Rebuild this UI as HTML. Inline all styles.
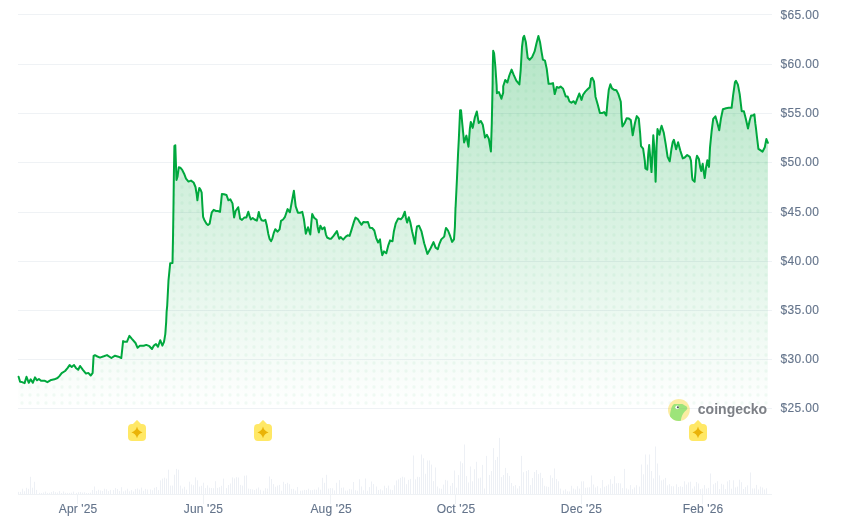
<!DOCTYPE html>
<html lang="en">
<head>
<meta charset="utf-8">
<title>Price chart</title>
<style>
html,body{margin:0;padding:0;background:#fff;}
body{width:868px;height:531px;overflow:hidden;font-family:"Liberation Sans",sans-serif;}
svg{display:block;}
.lab text{font-family:"Liberation Sans",sans-serif;font-size:12px;fill:#64748b;stroke:#64748b;stroke-width:0.12px;}
.wm{font-family:"Liberation Sans",sans-serif;font-size:14.5px;font-weight:700;fill:#7d8086;}
</style>
</head>
<body>
<svg width="868" height="531" viewBox="0 0 868 531">
<defs>
<linearGradient id="ag" gradientUnits="userSpaceOnUse" x1="0" y1="36" x2="0" y2="408">
<stop offset="0" stop-color="#00a83e" stop-opacity="0.30"/>
<stop offset="1" stop-color="#00a83e" stop-opacity="0"/>
</linearGradient>
<pattern id="dots" patternUnits="userSpaceOnUse" x="0" y="0" width="8" height="8">
<circle cx="6" cy="3" r="1.7" fill="#00a83e" fill-opacity="0.05"/>
</pattern>
</defs>
<rect width="868" height="531" fill="#ffffff"/>
<g fill="#eff2f5"><rect x="18" y="14" width="754" height="1"/><rect x="18" y="64" width="754" height="1"/><rect x="18" y="113" width="754" height="1"/><rect x="18" y="162" width="754" height="1"/><rect x="18" y="212" width="754" height="1"/><rect x="18" y="261" width="754" height="1"/><rect x="18" y="310" width="754" height="1"/><rect x="18" y="359" width="754" height="1"/><rect x="18" y="408" width="754" height="1"/></g>
<g fill="#edf0f5"><rect x="18" y="491.9" width="1" height="2.6"/><rect x="20" y="491.9" width="1" height="2.6"/><rect x="22" y="488.7" width="1" height="5.8"/><rect x="24" y="491.3" width="1" height="3.2"/><rect x="26" y="487.8" width="1" height="6.7"/><rect x="28" y="488.8" width="1" height="5.7"/><rect x="30" y="476.8" width="1" height="17.7"/><rect x="32" y="487.7" width="1" height="6.8"/><rect x="34" y="481.8" width="1" height="12.7"/><rect x="36" y="489.9" width="1" height="4.6"/><rect x="39" y="492.8" width="1" height="1.7"/><rect x="41" y="493.0" width="1" height="1.5"/><rect x="43" y="492.5" width="1" height="2.0"/><rect x="45" y="491.6" width="1" height="2.9"/><rect x="47" y="492.9" width="1" height="1.6"/><rect x="49" y="492.8" width="1" height="1.7"/><rect x="51" y="492.1" width="1" height="2.4"/><rect x="53" y="491.2" width="1" height="3.3"/><rect x="55" y="492.2" width="1" height="2.3"/><rect x="57" y="492.6" width="1" height="1.9"/><rect x="59" y="491.1" width="1" height="3.4"/><rect x="61" y="493.0" width="1" height="1.5"/><rect x="63" y="491.5" width="1" height="3.0"/><rect x="65" y="492.8" width="1" height="1.7"/><rect x="67" y="492.9" width="1" height="1.6"/><rect x="69" y="492.9" width="1" height="1.6"/><rect x="71" y="492.7" width="1" height="1.8"/><rect x="73" y="491.6" width="1" height="2.9"/><rect x="76" y="492.9" width="1" height="1.6"/><rect x="78" y="492.2" width="1" height="2.3"/><rect x="80" y="492.1" width="1" height="2.4"/><rect x="82" y="492.6" width="1" height="1.9"/><rect x="84" y="492.3" width="1" height="2.2"/><rect x="86" y="493.0" width="1" height="1.5"/><rect x="88" y="493.0" width="1" height="1.5"/><rect x="90" y="492.7" width="1" height="1.8"/><rect x="92" y="490.0" width="1" height="4.5"/><rect x="94" y="486.5" width="1" height="8.0"/><rect x="96" y="490.9" width="1" height="3.6"/><rect x="98" y="489.8" width="1" height="4.7"/><rect x="100" y="490.5" width="1" height="4.0"/><rect x="102" y="491.0" width="1" height="3.5"/><rect x="104" y="488.7" width="1" height="5.8"/><rect x="106" y="489.3" width="1" height="5.2"/><rect x="108" y="491.1" width="1" height="3.4"/><rect x="110" y="489.9" width="1" height="4.6"/><rect x="113" y="490.1" width="1" height="4.4"/><rect x="115" y="488.1" width="1" height="6.4"/><rect x="117" y="489.0" width="1" height="5.5"/><rect x="119" y="491.0" width="1" height="3.5"/><rect x="121" y="487.2" width="1" height="7.3"/><rect x="123" y="491.4" width="1" height="3.1"/><rect x="125" y="490.5" width="1" height="4.0"/><rect x="127" y="488.7" width="1" height="5.8"/><rect x="129" y="491.3" width="1" height="3.2"/><rect x="131" y="490.1" width="1" height="4.4"/><rect x="133" y="491.5" width="1" height="3.0"/><rect x="135" y="489.1" width="1" height="5.4"/><rect x="137" y="488.5" width="1" height="6.0"/><rect x="139" y="489.6" width="1" height="4.9"/><rect x="141" y="487.6" width="1" height="6.9"/><rect x="143" y="490.8" width="1" height="3.7"/><rect x="145" y="488.9" width="1" height="5.6"/><rect x="147" y="489.5" width="1" height="5.0"/><rect x="150" y="489.5" width="1" height="5.0"/><rect x="152" y="490.2" width="1" height="4.3"/><rect x="154" y="487.8" width="1" height="6.7"/><rect x="156" y="487.0" width="1" height="7.5"/><rect x="158" y="490.1" width="1" height="4.4"/><rect x="160" y="480.4" width="1" height="14.1"/><rect x="162" y="478.6" width="1" height="15.9"/><rect x="164" y="477.7" width="1" height="16.8"/><rect x="166" y="478.6" width="1" height="15.9"/><rect x="168" y="469.7" width="1" height="24.8"/><rect x="170" y="485.6" width="1" height="8.9"/><rect x="172" y="485.6" width="1" height="8.9"/><rect x="174" y="474.7" width="1" height="19.8"/><rect x="176" y="468.9" width="1" height="25.6"/><rect x="178" y="469.7" width="1" height="24.8"/><rect x="180" y="485.6" width="1" height="8.9"/><rect x="182" y="488.6" width="1" height="5.9"/><rect x="184" y="486.8" width="1" height="7.7"/><rect x="186" y="489.7" width="1" height="4.8"/><rect x="189" y="481.7" width="1" height="12.8"/><rect x="191" y="484.5" width="1" height="10.0"/><rect x="193" y="485.2" width="1" height="9.3"/><rect x="195" y="477.4" width="1" height="17.1"/><rect x="197" y="480.3" width="1" height="14.2"/><rect x="199" y="486.6" width="1" height="7.9"/><rect x="201" y="485.8" width="1" height="8.7"/><rect x="203" y="482.7" width="1" height="11.8"/><rect x="205" y="488.1" width="1" height="6.4"/><rect x="207" y="485.4" width="1" height="9.1"/><rect x="209" y="487.7" width="1" height="6.8"/><rect x="211" y="488.0" width="1" height="6.5"/><rect x="213" y="488.2" width="1" height="6.3"/><rect x="215" y="481.2" width="1" height="13.3"/><rect x="217" y="487.9" width="1" height="6.6"/><rect x="219" y="487.2" width="1" height="7.3"/><rect x="221" y="485.8" width="1" height="8.7"/><rect x="223" y="478.6" width="1" height="15.9"/><rect x="226" y="488.1" width="1" height="6.4"/><rect x="228" y="485.0" width="1" height="9.5"/><rect x="230" y="483.5" width="1" height="11.0"/><rect x="232" y="477.4" width="1" height="17.1"/><rect x="234" y="478.4" width="1" height="16.1"/><rect x="236" y="477.2" width="1" height="17.3"/><rect x="238" y="477.5" width="1" height="17.0"/><rect x="240" y="484.9" width="1" height="9.6"/><rect x="242" y="485.6" width="1" height="8.9"/><rect x="244" y="475.7" width="1" height="18.8"/><rect x="246" y="475.4" width="1" height="19.1"/><rect x="248" y="488.6" width="1" height="5.9"/><rect x="250" y="489.1" width="1" height="5.4"/><rect x="252" y="489.4" width="1" height="5.1"/><rect x="254" y="490.0" width="1" height="4.5"/><rect x="256" y="488.7" width="1" height="5.8"/><rect x="258" y="487.5" width="1" height="7.0"/><rect x="260" y="489.8" width="1" height="4.7"/><rect x="263" y="490.7" width="1" height="3.8"/><rect x="265" y="488.2" width="1" height="6.3"/><rect x="267" y="488.6" width="1" height="5.9"/><rect x="269" y="476.5" width="1" height="18.0"/><rect x="271" y="479.0" width="1" height="15.5"/><rect x="273" y="484.1" width="1" height="10.4"/><rect x="275" y="486.8" width="1" height="7.7"/><rect x="277" y="485.6" width="1" height="8.9"/><rect x="279" y="484.9" width="1" height="9.6"/><rect x="281" y="490.7" width="1" height="3.8"/><rect x="283" y="481.8" width="1" height="12.7"/><rect x="285" y="484.0" width="1" height="10.5"/><rect x="287" y="482.8" width="1" height="11.7"/><rect x="289" y="484.2" width="1" height="10.3"/><rect x="291" y="488.9" width="1" height="5.6"/><rect x="293" y="488.9" width="1" height="5.6"/><rect x="295" y="490.6" width="1" height="3.9"/><rect x="297" y="487.0" width="1" height="7.5"/><rect x="300" y="490.7" width="1" height="3.8"/><rect x="302" y="490.5" width="1" height="4.0"/><rect x="304" y="489.9" width="1" height="4.6"/><rect x="306" y="490.0" width="1" height="4.5"/><rect x="308" y="488.7" width="1" height="5.8"/><rect x="310" y="490.2" width="1" height="4.3"/><rect x="312" y="490.1" width="1" height="4.4"/><rect x="314" y="489.5" width="1" height="5.0"/><rect x="316" y="489.7" width="1" height="4.8"/><rect x="318" y="487.4" width="1" height="7.1"/><rect x="320" y="489.7" width="1" height="4.8"/><rect x="322" y="477.8" width="1" height="16.7"/><rect x="324" y="482.8" width="1" height="11.7"/><rect x="326" y="474.8" width="1" height="19.7"/><rect x="328" y="488.6" width="1" height="5.9"/><rect x="330" y="488.1" width="1" height="6.4"/><rect x="332" y="488.3" width="1" height="6.2"/><rect x="334" y="490.4" width="1" height="4.1"/><rect x="336" y="482.8" width="1" height="11.7"/><rect x="339" y="480.1" width="1" height="14.4"/><rect x="341" y="487.8" width="1" height="6.7"/><rect x="343" y="487.5" width="1" height="7.0"/><rect x="345" y="490.6" width="1" height="3.9"/><rect x="347" y="490.5" width="1" height="4.0"/><rect x="349" y="488.9" width="1" height="5.6"/><rect x="351" y="489.5" width="1" height="5.0"/><rect x="353" y="482.0" width="1" height="12.5"/><rect x="355" y="490.2" width="1" height="4.3"/><rect x="357" y="490.7" width="1" height="3.8"/><rect x="359" y="479.3" width="1" height="15.2"/><rect x="361" y="486.5" width="1" height="8.0"/><rect x="363" y="490.3" width="1" height="4.2"/><rect x="365" y="478.5" width="1" height="16.0"/><rect x="367" y="490.7" width="1" height="3.8"/><rect x="369" y="487.1" width="1" height="7.4"/><rect x="371" y="481.5" width="1" height="13.0"/><rect x="373" y="484.1" width="1" height="10.4"/><rect x="376" y="486.5" width="1" height="8.0"/><rect x="378" y="490.0" width="1" height="4.5"/><rect x="380" y="489.3" width="1" height="5.2"/><rect x="382" y="490.4" width="1" height="4.1"/><rect x="384" y="485.7" width="1" height="8.8"/><rect x="386" y="488.1" width="1" height="6.4"/><rect x="388" y="485.6" width="1" height="8.9"/><rect x="390" y="489.6" width="1" height="4.9"/><rect x="392" y="490.1" width="1" height="4.4"/><rect x="394" y="485.3" width="1" height="9.2"/><rect x="396" y="480.5" width="1" height="14.0"/><rect x="398" y="479.4" width="1" height="15.1"/><rect x="400" y="477.8" width="1" height="16.7"/><rect x="402" y="476.7" width="1" height="17.8"/><rect x="404" y="477.4" width="1" height="17.1"/><rect x="406" y="484.2" width="1" height="10.3"/><rect x="408" y="479.9" width="1" height="14.6"/><rect x="410" y="478.9" width="1" height="15.6"/><rect x="413" y="455.5" width="1" height="39.0"/><rect x="415" y="479.4" width="1" height="15.1"/><rect x="417" y="476.8" width="1" height="17.7"/><rect x="419" y="477.1" width="1" height="17.4"/><rect x="421" y="454.5" width="1" height="40.0"/><rect x="423" y="458.3" width="1" height="36.2"/><rect x="425" y="473.8" width="1" height="20.7"/><rect x="427" y="460.5" width="1" height="34.0"/><rect x="429" y="460.4" width="1" height="34.1"/><rect x="431" y="464.6" width="1" height="29.9"/><rect x="433" y="481.1" width="1" height="13.4"/><rect x="435" y="467.5" width="1" height="27.0"/><rect x="437" y="486.5" width="1" height="8.0"/><rect x="439" y="488.4" width="1" height="6.1"/><rect x="441" y="488.8" width="1" height="5.7"/><rect x="443" y="484.6" width="1" height="9.9"/><rect x="445" y="479.9" width="1" height="14.6"/><rect x="447" y="480.6" width="1" height="13.9"/><rect x="450" y="485.8" width="1" height="8.7"/><rect x="452" y="483.0" width="1" height="11.5"/><rect x="454" y="470.5" width="1" height="24.0"/><rect x="456" y="487.7" width="1" height="6.8"/><rect x="458" y="475.1" width="1" height="19.4"/><rect x="460" y="461.4" width="1" height="33.1"/><rect x="462" y="463.2" width="1" height="31.3"/><rect x="464" y="444.5" width="1" height="50.0"/><rect x="466" y="476.1" width="1" height="18.4"/><rect x="468" y="482.5" width="1" height="12.0"/><rect x="470" y="466.5" width="1" height="28.0"/><rect x="472" y="481.3" width="1" height="13.2"/><rect x="474" y="469.2" width="1" height="25.3"/><rect x="476" y="461.8" width="1" height="32.7"/><rect x="478" y="478.4" width="1" height="16.1"/><rect x="480" y="477.6" width="1" height="16.9"/><rect x="482" y="464.9" width="1" height="29.6"/><rect x="484" y="488.5" width="1" height="6.0"/><rect x="486" y="455.9" width="1" height="38.6"/><rect x="489" y="475.0" width="1" height="19.5"/><rect x="491" y="471.0" width="1" height="23.5"/><rect x="493" y="448.1" width="1" height="46.4"/><rect x="495" y="460.0" width="1" height="34.5"/><rect x="497" y="456.9" width="1" height="37.6"/><rect x="499" y="437.9" width="1" height="56.6"/><rect x="501" y="477.1" width="1" height="17.4"/><rect x="503" y="475.0" width="1" height="19.5"/><rect x="505" y="467.9" width="1" height="26.6"/><rect x="507" y="473.1" width="1" height="21.4"/><rect x="509" y="475.9" width="1" height="18.6"/><rect x="511" y="483.0" width="1" height="11.5"/><rect x="513" y="486.1" width="1" height="8.4"/><rect x="515" y="485.1" width="1" height="9.4"/><rect x="517" y="488.5" width="1" height="6.0"/><rect x="519" y="486.1" width="1" height="8.4"/><rect x="521" y="455.9" width="1" height="38.6"/><rect x="523" y="472.2" width="1" height="22.3"/><rect x="526" y="471.0" width="1" height="23.5"/><rect x="528" y="470.0" width="1" height="24.5"/><rect x="530" y="485.1" width="1" height="9.4"/><rect x="532" y="478.0" width="1" height="16.5"/><rect x="534" y="472.0" width="1" height="22.5"/><rect x="536" y="470.0" width="1" height="24.5"/><rect x="538" y="474.1" width="1" height="20.4"/><rect x="540" y="472.8" width="1" height="21.7"/><rect x="542" y="478.0" width="1" height="16.5"/><rect x="544" y="485.8" width="1" height="8.7"/><rect x="546" y="486.5" width="1" height="8.0"/><rect x="548" y="486.9" width="1" height="7.6"/><rect x="550" y="475.3" width="1" height="19.2"/><rect x="552" y="477.9" width="1" height="16.6"/><rect x="554" y="468.5" width="1" height="26.0"/><rect x="556" y="479.1" width="1" height="15.4"/><rect x="558" y="481.3" width="1" height="13.2"/><rect x="560" y="488.6" width="1" height="5.9"/><rect x="563" y="490.5" width="1" height="4.0"/><rect x="565" y="489.3" width="1" height="5.2"/><rect x="567" y="491.3" width="1" height="3.2"/><rect x="569" y="491.5" width="1" height="3.0"/><rect x="571" y="485.8" width="1" height="8.7"/><rect x="573" y="488.6" width="1" height="5.9"/><rect x="575" y="489.5" width="1" height="5.0"/><rect x="577" y="486.2" width="1" height="8.3"/><rect x="579" y="488.6" width="1" height="5.9"/><rect x="581" y="481.4" width="1" height="13.1"/><rect x="583" y="481.3" width="1" height="13.2"/><rect x="585" y="487.8" width="1" height="6.7"/><rect x="587" y="487.5" width="1" height="7.0"/><rect x="589" y="487.3" width="1" height="7.2"/><rect x="591" y="475.5" width="1" height="19.0"/><rect x="593" y="484.5" width="1" height="10.0"/><rect x="595" y="487.5" width="1" height="7.0"/><rect x="597" y="486.2" width="1" height="8.3"/><rect x="600" y="488.2" width="1" height="6.3"/><rect x="602" y="480.0" width="1" height="14.5"/><rect x="604" y="486.8" width="1" height="7.7"/><rect x="606" y="485.8" width="1" height="8.7"/><rect x="608" y="484.5" width="1" height="10.0"/><rect x="610" y="479.2" width="1" height="15.3"/><rect x="612" y="483.8" width="1" height="10.7"/><rect x="614" y="476.2" width="1" height="18.3"/><rect x="616" y="483.3" width="1" height="11.2"/><rect x="618" y="483.1" width="1" height="11.4"/><rect x="620" y="483.4" width="1" height="11.1"/><rect x="622" y="488.1" width="1" height="6.4"/><rect x="624" y="468.9" width="1" height="25.6"/><rect x="626" y="488.4" width="1" height="6.1"/><rect x="628" y="489.5" width="1" height="5.0"/><rect x="630" y="485.1" width="1" height="9.4"/><rect x="632" y="489.2" width="1" height="5.3"/><rect x="634" y="487.5" width="1" height="7.0"/><rect x="636" y="485.2" width="1" height="9.3"/><rect x="639" y="486.6" width="1" height="7.9"/><rect x="641" y="464.5" width="1" height="30.0"/><rect x="643" y="474.3" width="1" height="20.2"/><rect x="645" y="454.5" width="1" height="40.0"/><rect x="647" y="464.6" width="1" height="29.9"/><rect x="649" y="454.5" width="1" height="40.0"/><rect x="651" y="471.0" width="1" height="23.5"/><rect x="653" y="478.4" width="1" height="16.1"/><rect x="655" y="446.5" width="1" height="48.0"/><rect x="657" y="463.5" width="1" height="31.0"/><rect x="659" y="475.4" width="1" height="19.1"/><rect x="661" y="480.4" width="1" height="14.1"/><rect x="663" y="479.6" width="1" height="14.9"/><rect x="665" y="477.9" width="1" height="16.6"/><rect x="667" y="485.4" width="1" height="9.1"/><rect x="669" y="484.2" width="1" height="10.3"/><rect x="671" y="486.2" width="1" height="8.3"/><rect x="673" y="486.3" width="1" height="8.2"/><rect x="676" y="484.3" width="1" height="10.2"/><rect x="678" y="487.0" width="1" height="7.5"/><rect x="680" y="486.3" width="1" height="8.2"/><rect x="682" y="486.9" width="1" height="7.6"/><rect x="684" y="481.3" width="1" height="13.2"/><rect x="686" y="484.6" width="1" height="9.9"/><rect x="688" y="482.4" width="1" height="12.1"/><rect x="690" y="481.7" width="1" height="12.8"/><rect x="692" y="488.6" width="1" height="5.9"/><rect x="694" y="486.4" width="1" height="8.1"/><rect x="696" y="482.0" width="1" height="12.5"/><rect x="698" y="483.5" width="1" height="11.0"/><rect x="700" y="489.1" width="1" height="5.4"/><rect x="702" y="488.5" width="1" height="6.0"/><rect x="704" y="485.1" width="1" height="9.4"/><rect x="706" y="488.6" width="1" height="5.9"/><rect x="708" y="487.9" width="1" height="6.6"/><rect x="710" y="473.5" width="1" height="21.0"/><rect x="713" y="484.3" width="1" height="10.2"/><rect x="715" y="482.9" width="1" height="11.6"/><rect x="717" y="481.2" width="1" height="13.3"/><rect x="719" y="489.1" width="1" height="5.4"/><rect x="721" y="483.8" width="1" height="10.7"/><rect x="723" y="484.6" width="1" height="9.9"/><rect x="725" y="489.1" width="1" height="5.4"/><rect x="727" y="481.4" width="1" height="13.1"/><rect x="729" y="480.0" width="1" height="14.5"/><rect x="731" y="488.7" width="1" height="5.8"/><rect x="733" y="480.3" width="1" height="14.2"/><rect x="735" y="487.4" width="1" height="7.1"/><rect x="737" y="486.6" width="1" height="7.9"/><rect x="739" y="479.7" width="1" height="14.8"/><rect x="741" y="482.2" width="1" height="12.3"/><rect x="743" y="489.0" width="1" height="5.5"/><rect x="745" y="487.1" width="1" height="7.4"/><rect x="747" y="485.4" width="1" height="9.1"/><rect x="750" y="472.5" width="1" height="22.0"/><rect x="752" y="488.5" width="1" height="6.0"/><rect x="754" y="488.4" width="1" height="6.1"/><rect x="756" y="484.9" width="1" height="9.6"/><rect x="758" y="489.5" width="1" height="5.0"/><rect x="760" y="486.6" width="1" height="7.9"/><rect x="762" y="487.5" width="1" height="7.0"/><rect x="764" y="489.5" width="1" height="5.0"/><rect x="766" y="488.3" width="1" height="6.2"/></g>
<g fill="#eff2f5"><rect x="18" y="494" width="754" height="1"/><rect x="77.0" y="494" width="1" height="10"/><rect x="203.0" y="494" width="1" height="10"/><rect x="330.0" y="494" width="1" height="10"/><rect x="455.0" y="494" width="1" height="10"/><rect x="581.0" y="494" width="1" height="10"/><rect x="702.0" y="494" width="1" height="10"/></g>
<path d="M18,408.5 L18.6,376.8 L20.1,381.8 L22.0,382.1 L24.6,383.1 L26.5,376.8 L28.8,382.8 L30.7,379.3 L32.8,382.8 L35.0,377.4 L36.9,380.3 L38.9,379.0 L41.0,380.8 L44.9,380.8 L47.4,382.2 L51.2,379.9 L54.4,379.3 L57.5,378.0 L59.4,376.1 L61.7,373.2 L65.1,371.0 L67.7,367.9 L69.6,365.0 L71.7,366.9 L74.0,365.0 L75.9,367.9 L78.2,369.8 L80.1,366.0 L82.9,369.8 L86.0,373.6 L88.3,372.9 L90.7,375.5 L92.6,373.2 L93.6,355.8 L94.9,355.2 L97.4,356.5 L100.0,357.6 L103.8,356.3 L107.0,355.1 L111.4,358.0 L115.0,355.7 L118.4,356.7 L121.3,358.0 L123.1,341.1 L124.7,341.8 L126.9,341.8 L129.4,335.8 L131.7,338.6 L135.5,343.0 L137.6,347.8 L139.9,345.8 L143.7,345.8 L146.3,344.9 L149.4,346.2 L152.0,349.0 L153.9,345.6 L156.0,344.0 L158.0,346.8 L160.2,340.2 L162.4,345.6 L164.0,341.8 L165.3,334.1 L166.2,321.5 L166.6,312.0 L167.2,305.7 L168.5,280.3 L170.2,263.2 L172.5,263.0 L173.0,238.0 L173.5,205.0 L173.9,173.0 L174.4,146.0 L175.3,145.2 L175.8,160.3 L176.5,180.0 L177.5,176.8 L178.8,167.3 L180.3,167.7 L182.2,169.9 L184.1,173.7 L186.0,178.7 L188.5,181.6 L191.0,180.6 L193.6,182.5 L195.5,187.0 L196.5,193.3 L196.5,192.7 L197.4,200.3 L198.2,193.9 L199.3,187.9 L200.5,189.5 L201.7,192.7 L202.3,204.1 L203.1,216.8 L204.6,220.6 L206.5,223.7 L208.0,225.0 L209.6,223.7 L210.9,216.8 L211.8,212.3 L213.7,209.8 L216.0,211.0 L217.9,211.0 L220.0,211.9 L221.0,202.8 L221.9,193.9 L224.0,194.2 L226.5,195.0 L228.4,200.3 L230.3,199.3 L232.5,203.4 L233.3,210.4 L234.1,217.4 L235.6,211.0 L238.2,207.2 L239.2,212.9 L240.1,218.7 L242.0,219.9 L244.5,217.4 L246.4,217.4 L248.3,211.7 L249.6,216.1 L250.8,219.5 L252.7,218.0 L254.6,219.5 L256.9,220.6 L257.8,216.8 L258.8,211.9 L260.1,217.4 L261.6,220.3 L263.5,220.8 L265.4,219.9 L266.7,225.0 L268.3,233.9 L269.6,238.9 L271.1,241.1 L272.4,238.3 L273.9,232.6 L275.3,229.2 L277.4,231.7 L279.6,229.4 L281.0,220.8 L283.1,219.5 L285.0,216.8 L287.6,209.1 L289.9,212.3 L292.0,200.9 L293.9,190.8 L295.7,206.4 L297.9,212.7 L300.1,212.7 L302.3,211.9 L303.9,219.1 L305.8,233.7 L308.0,227.3 L310.3,234.5 L311.3,222.9 L312.2,214.0 L314.1,217.8 L316.6,219.7 L317.6,226.7 L318.8,232.4 L320.4,225.8 L322.3,229.2 L324.5,227.3 L325.9,234.3 L327.1,237.5 L329.3,238.7 L331.2,238.7 L333.7,235.6 L336.9,231.1 L338.2,235.6 L339.2,238.7 L340.7,237.1 L343.2,239.6 L345.8,236.6 L347.7,235.3 L349.6,235.9 L351.5,229.9 L354.0,221.6 L355.5,217.6 L357.8,219.1 L359.7,222.2 L361.6,224.8 L363.5,221.9 L365.8,222.2 L367.9,221.9 L369.8,227.7 L372.1,227.9 L374.3,230.5 L376.2,238.1 L378.1,242.5 L380.0,239.4 L381.0,248.2 L382.3,255.2 L384.0,251.4 L386.3,253.3 L388.2,245.7 L390.1,240.4 L390.2,240.6 L392.5,241.3 L393.8,231.8 L395.7,223.5 L398.2,218.4 L400.8,219.3 L402.7,217.2 L404.8,211.7 L405.8,217.2 L407.1,222.6 L408.8,217.2 L410.3,222.2 L412.2,231.8 L415.0,243.8 L416.0,233.0 L417.0,226.4 L419.1,225.8 L421.4,231.1 L424.2,243.2 L427.4,253.9 L430.6,248.2 L433.5,242.1 L435.6,247.6 L437.8,249.2 L439.4,243.8 L441.3,239.4 L444.2,236.6 L445.1,231.8 L446.0,227.9 L448.0,230.5 L450.2,236.2 L452.1,241.9 L454.0,239.4 L454.9,226.7 L455.5,207.7 L455.6,207.0 L457.0,178.0 L458.1,152.7 L458.8,139.6 L460.1,110.2 L461.0,110.2 L462.2,122.9 L464.1,142.5 L466.4,135.6 L468.5,146.7 L469.8,129.2 L470.8,121.9 L472.7,127.9 L474.9,117.2 L476.8,111.5 L478.7,122.9 L480.8,121.0 L482.8,124.8 L485.0,137.5 L486.9,134.9 L488.8,138.7 L490.9,151.4 L491.8,123.0 L492.6,85.0 L492.8,66.0 L493.2,50.8 L494.1,53.3 L495.3,66.0 L496.6,85.0 L496.9,93.2 L498.9,92.0 L501.4,98.7 L503.2,92.6 L503.2,86.3 L505.2,80.0 L507.4,82.5 L509.3,75.5 L511.6,69.6 L513.7,74.9 L516.3,80.6 L519.4,84.4 L520.7,69.8 L522.0,47.0 L523.2,37.5 L524.2,35.9 L525.8,41.9 L527.7,57.8 L529.6,59.7 L532.1,57.1 L534.6,51.4 L536.5,43.2 L538.4,35.9 L540.0,41.9 L541.6,52.1 L542.9,59.7 L545.0,60.7 L546.7,68.6 L548.6,83.8 L551.1,83.8 L553.0,83.1 L554.7,94.1 L556.8,86.9 L558.7,87.8 L560.6,86.5 L563.1,88.8 L565.7,96.4 L567.6,96.4 L569.5,101.5 L571.4,102.7 L573.7,101.2 L575.4,103.8 L577.7,97.7 L579.3,93.5 L581.5,99.9 L583.1,94.8 L585.3,91.6 L587.6,89.3 L589.8,87.2 L591.0,78.9 L592.3,77.9 L594.0,81.5 L595.5,96.7 L598.0,105.6 L599.9,112.9 L602.5,112.9 L604.1,112.1 L606.3,115.4 L607.5,101.8 L608.8,89.7 L610.4,84.3 L612.0,88.4 L613.9,89.7 L616.4,90.3 L618.3,93.9 L620.8,101.8 L621.6,117.6 L622.4,126.5 L624.5,123.3 L626.7,118.2 L628.9,118.6 L630.8,120.1 L632.7,135.3 L635.0,122.7 L636.8,116.1 L638.8,118.6 L640.1,132.8 L641.0,146.1 L643.1,148.7 L644.8,160.7 L645.4,168.3 L647.3,169.6 L648.2,154.4 L649.2,144.9 L650.5,160.7 L651.5,172.1 L652.4,154.4 L653.3,135.3 L654.3,148.0 L655.2,170.0 L655.6,181.8 L656.0,170.0 L656.6,145.5 L657.5,129.0 L659.4,134.7 L660.6,129.0 L661.6,125.8 L663.8,132.8 L665.7,144.2 L667.6,156.9 L669.7,161.3 L671.4,149.3 L672.7,142.3 L673.9,139.8 L676.1,149.3 L678.1,142.3 L680.3,150.6 L682.8,158.4 L684.7,157.5 L687.2,155.0 L689.8,156.9 L691.0,160.7 L692.1,176.8 L692.6,179.9 L694.6,181.8 L695.5,171.7 L696.1,160.3 L697.0,155.8 L698.9,159.0 L700.2,167.2 L701.2,171.0 L702.7,163.8 L703.7,171.7 L704.7,178.0 L706.0,167.9 L707.3,160.3 L709.0,166.9 L710.0,147.6 L711.6,131.5 L713.2,118.9 L715.4,116.3 L717.4,123.3 L719.2,130.3 L721.0,118.2 L722.9,109.3 L726.1,108.3 L728.7,107.8 L731.6,107.8 L733.1,95.3 L735.0,82.0 L735.9,80.8 L737.9,84.6 L739.7,94.1 L741.7,111.2 L743.9,111.2 L745.8,118.8 L748.0,128.5 L749.6,120.7 L751.1,115.4 L753.1,115.4 L754.4,114.4 L755.3,123.2 L755.9,127.6 L756.9,136.5 L758.4,148.9 L760.3,150.2 L762.5,151.7 L764.8,147.2 L766.4,139.0 L767.9,142.8 L767.9,408.5 Z" fill="url(#ag)"/>
<path d="M18,408.5 L18.6,376.8 L20.1,381.8 L22.0,382.1 L24.6,383.1 L26.5,376.8 L28.8,382.8 L30.7,379.3 L32.8,382.8 L35.0,377.4 L36.9,380.3 L38.9,379.0 L41.0,380.8 L44.9,380.8 L47.4,382.2 L51.2,379.9 L54.4,379.3 L57.5,378.0 L59.4,376.1 L61.7,373.2 L65.1,371.0 L67.7,367.9 L69.6,365.0 L71.7,366.9 L74.0,365.0 L75.9,367.9 L78.2,369.8 L80.1,366.0 L82.9,369.8 L86.0,373.6 L88.3,372.9 L90.7,375.5 L92.6,373.2 L93.6,355.8 L94.9,355.2 L97.4,356.5 L100.0,357.6 L103.8,356.3 L107.0,355.1 L111.4,358.0 L115.0,355.7 L118.4,356.7 L121.3,358.0 L123.1,341.1 L124.7,341.8 L126.9,341.8 L129.4,335.8 L131.7,338.6 L135.5,343.0 L137.6,347.8 L139.9,345.8 L143.7,345.8 L146.3,344.9 L149.4,346.2 L152.0,349.0 L153.9,345.6 L156.0,344.0 L158.0,346.8 L160.2,340.2 L162.4,345.6 L164.0,341.8 L165.3,334.1 L166.2,321.5 L166.6,312.0 L167.2,305.7 L168.5,280.3 L170.2,263.2 L172.5,263.0 L173.0,238.0 L173.5,205.0 L173.9,173.0 L174.4,146.0 L175.3,145.2 L175.8,160.3 L176.5,180.0 L177.5,176.8 L178.8,167.3 L180.3,167.7 L182.2,169.9 L184.1,173.7 L186.0,178.7 L188.5,181.6 L191.0,180.6 L193.6,182.5 L195.5,187.0 L196.5,193.3 L196.5,192.7 L197.4,200.3 L198.2,193.9 L199.3,187.9 L200.5,189.5 L201.7,192.7 L202.3,204.1 L203.1,216.8 L204.6,220.6 L206.5,223.7 L208.0,225.0 L209.6,223.7 L210.9,216.8 L211.8,212.3 L213.7,209.8 L216.0,211.0 L217.9,211.0 L220.0,211.9 L221.0,202.8 L221.9,193.9 L224.0,194.2 L226.5,195.0 L228.4,200.3 L230.3,199.3 L232.5,203.4 L233.3,210.4 L234.1,217.4 L235.6,211.0 L238.2,207.2 L239.2,212.9 L240.1,218.7 L242.0,219.9 L244.5,217.4 L246.4,217.4 L248.3,211.7 L249.6,216.1 L250.8,219.5 L252.7,218.0 L254.6,219.5 L256.9,220.6 L257.8,216.8 L258.8,211.9 L260.1,217.4 L261.6,220.3 L263.5,220.8 L265.4,219.9 L266.7,225.0 L268.3,233.9 L269.6,238.9 L271.1,241.1 L272.4,238.3 L273.9,232.6 L275.3,229.2 L277.4,231.7 L279.6,229.4 L281.0,220.8 L283.1,219.5 L285.0,216.8 L287.6,209.1 L289.9,212.3 L292.0,200.9 L293.9,190.8 L295.7,206.4 L297.9,212.7 L300.1,212.7 L302.3,211.9 L303.9,219.1 L305.8,233.7 L308.0,227.3 L310.3,234.5 L311.3,222.9 L312.2,214.0 L314.1,217.8 L316.6,219.7 L317.6,226.7 L318.8,232.4 L320.4,225.8 L322.3,229.2 L324.5,227.3 L325.9,234.3 L327.1,237.5 L329.3,238.7 L331.2,238.7 L333.7,235.6 L336.9,231.1 L338.2,235.6 L339.2,238.7 L340.7,237.1 L343.2,239.6 L345.8,236.6 L347.7,235.3 L349.6,235.9 L351.5,229.9 L354.0,221.6 L355.5,217.6 L357.8,219.1 L359.7,222.2 L361.6,224.8 L363.5,221.9 L365.8,222.2 L367.9,221.9 L369.8,227.7 L372.1,227.9 L374.3,230.5 L376.2,238.1 L378.1,242.5 L380.0,239.4 L381.0,248.2 L382.3,255.2 L384.0,251.4 L386.3,253.3 L388.2,245.7 L390.1,240.4 L390.2,240.6 L392.5,241.3 L393.8,231.8 L395.7,223.5 L398.2,218.4 L400.8,219.3 L402.7,217.2 L404.8,211.7 L405.8,217.2 L407.1,222.6 L408.8,217.2 L410.3,222.2 L412.2,231.8 L415.0,243.8 L416.0,233.0 L417.0,226.4 L419.1,225.8 L421.4,231.1 L424.2,243.2 L427.4,253.9 L430.6,248.2 L433.5,242.1 L435.6,247.6 L437.8,249.2 L439.4,243.8 L441.3,239.4 L444.2,236.6 L445.1,231.8 L446.0,227.9 L448.0,230.5 L450.2,236.2 L452.1,241.9 L454.0,239.4 L454.9,226.7 L455.5,207.7 L455.6,207.0 L457.0,178.0 L458.1,152.7 L458.8,139.6 L460.1,110.2 L461.0,110.2 L462.2,122.9 L464.1,142.5 L466.4,135.6 L468.5,146.7 L469.8,129.2 L470.8,121.9 L472.7,127.9 L474.9,117.2 L476.8,111.5 L478.7,122.9 L480.8,121.0 L482.8,124.8 L485.0,137.5 L486.9,134.9 L488.8,138.7 L490.9,151.4 L491.8,123.0 L492.6,85.0 L492.8,66.0 L493.2,50.8 L494.1,53.3 L495.3,66.0 L496.6,85.0 L496.9,93.2 L498.9,92.0 L501.4,98.7 L503.2,92.6 L503.2,86.3 L505.2,80.0 L507.4,82.5 L509.3,75.5 L511.6,69.6 L513.7,74.9 L516.3,80.6 L519.4,84.4 L520.7,69.8 L522.0,47.0 L523.2,37.5 L524.2,35.9 L525.8,41.9 L527.7,57.8 L529.6,59.7 L532.1,57.1 L534.6,51.4 L536.5,43.2 L538.4,35.9 L540.0,41.9 L541.6,52.1 L542.9,59.7 L545.0,60.7 L546.7,68.6 L548.6,83.8 L551.1,83.8 L553.0,83.1 L554.7,94.1 L556.8,86.9 L558.7,87.8 L560.6,86.5 L563.1,88.8 L565.7,96.4 L567.6,96.4 L569.5,101.5 L571.4,102.7 L573.7,101.2 L575.4,103.8 L577.7,97.7 L579.3,93.5 L581.5,99.9 L583.1,94.8 L585.3,91.6 L587.6,89.3 L589.8,87.2 L591.0,78.9 L592.3,77.9 L594.0,81.5 L595.5,96.7 L598.0,105.6 L599.9,112.9 L602.5,112.9 L604.1,112.1 L606.3,115.4 L607.5,101.8 L608.8,89.7 L610.4,84.3 L612.0,88.4 L613.9,89.7 L616.4,90.3 L618.3,93.9 L620.8,101.8 L621.6,117.6 L622.4,126.5 L624.5,123.3 L626.7,118.2 L628.9,118.6 L630.8,120.1 L632.7,135.3 L635.0,122.7 L636.8,116.1 L638.8,118.6 L640.1,132.8 L641.0,146.1 L643.1,148.7 L644.8,160.7 L645.4,168.3 L647.3,169.6 L648.2,154.4 L649.2,144.9 L650.5,160.7 L651.5,172.1 L652.4,154.4 L653.3,135.3 L654.3,148.0 L655.2,170.0 L655.6,181.8 L656.0,170.0 L656.6,145.5 L657.5,129.0 L659.4,134.7 L660.6,129.0 L661.6,125.8 L663.8,132.8 L665.7,144.2 L667.6,156.9 L669.7,161.3 L671.4,149.3 L672.7,142.3 L673.9,139.8 L676.1,149.3 L678.1,142.3 L680.3,150.6 L682.8,158.4 L684.7,157.5 L687.2,155.0 L689.8,156.9 L691.0,160.7 L692.1,176.8 L692.6,179.9 L694.6,181.8 L695.5,171.7 L696.1,160.3 L697.0,155.8 L698.9,159.0 L700.2,167.2 L701.2,171.0 L702.7,163.8 L703.7,171.7 L704.7,178.0 L706.0,167.9 L707.3,160.3 L709.0,166.9 L710.0,147.6 L711.6,131.5 L713.2,118.9 L715.4,116.3 L717.4,123.3 L719.2,130.3 L721.0,118.2 L722.9,109.3 L726.1,108.3 L728.7,107.8 L731.6,107.8 L733.1,95.3 L735.0,82.0 L735.9,80.8 L737.9,84.6 L739.7,94.1 L741.7,111.2 L743.9,111.2 L745.8,118.8 L748.0,128.5 L749.6,120.7 L751.1,115.4 L753.1,115.4 L754.4,114.4 L755.3,123.2 L755.9,127.6 L756.9,136.5 L758.4,148.9 L760.3,150.2 L762.5,151.7 L764.8,147.2 L766.4,139.0 L767.9,142.8 L767.9,408.5 Z" fill="url(#dots)"/>
<path d="M18.6,376.8 L20.1,381.8 L22.0,382.1 L24.6,383.1 L26.5,376.8 L28.8,382.8 L30.7,379.3 L32.8,382.8 L35.0,377.4 L36.9,380.3 L38.9,379.0 L41.0,380.8 L44.9,380.8 L47.4,382.2 L51.2,379.9 L54.4,379.3 L57.5,378.0 L59.4,376.1 L61.7,373.2 L65.1,371.0 L67.7,367.9 L69.6,365.0 L71.7,366.9 L74.0,365.0 L75.9,367.9 L78.2,369.8 L80.1,366.0 L82.9,369.8 L86.0,373.6 L88.3,372.9 L90.7,375.5 L92.6,373.2 L93.6,355.8 L94.9,355.2 L97.4,356.5 L100.0,357.6 L103.8,356.3 L107.0,355.1 L111.4,358.0 L115.0,355.7 L118.4,356.7 L121.3,358.0 L123.1,341.1 L124.7,341.8 L126.9,341.8 L129.4,335.8 L131.7,338.6 L135.5,343.0 L137.6,347.8 L139.9,345.8 L143.7,345.8 L146.3,344.9 L149.4,346.2 L152.0,349.0 L153.9,345.6 L156.0,344.0 L158.0,346.8 L160.2,340.2 L162.4,345.6 L164.0,341.8 L165.3,334.1 L166.2,321.5 L166.6,312.0 L167.2,305.7 L168.5,280.3 L170.2,263.2 L172.5,263.0 L173.0,238.0 L173.5,205.0 L173.9,173.0 L174.4,146.0 L175.3,145.2 L175.8,160.3 L176.5,180.0 L177.5,176.8 L178.8,167.3 L180.3,167.7 L182.2,169.9 L184.1,173.7 L186.0,178.7 L188.5,181.6 L191.0,180.6 L193.6,182.5 L195.5,187.0 L196.5,193.3 L196.5,192.7 L197.4,200.3 L198.2,193.9 L199.3,187.9 L200.5,189.5 L201.7,192.7 L202.3,204.1 L203.1,216.8 L204.6,220.6 L206.5,223.7 L208.0,225.0 L209.6,223.7 L210.9,216.8 L211.8,212.3 L213.7,209.8 L216.0,211.0 L217.9,211.0 L220.0,211.9 L221.0,202.8 L221.9,193.9 L224.0,194.2 L226.5,195.0 L228.4,200.3 L230.3,199.3 L232.5,203.4 L233.3,210.4 L234.1,217.4 L235.6,211.0 L238.2,207.2 L239.2,212.9 L240.1,218.7 L242.0,219.9 L244.5,217.4 L246.4,217.4 L248.3,211.7 L249.6,216.1 L250.8,219.5 L252.7,218.0 L254.6,219.5 L256.9,220.6 L257.8,216.8 L258.8,211.9 L260.1,217.4 L261.6,220.3 L263.5,220.8 L265.4,219.9 L266.7,225.0 L268.3,233.9 L269.6,238.9 L271.1,241.1 L272.4,238.3 L273.9,232.6 L275.3,229.2 L277.4,231.7 L279.6,229.4 L281.0,220.8 L283.1,219.5 L285.0,216.8 L287.6,209.1 L289.9,212.3 L292.0,200.9 L293.9,190.8 L295.7,206.4 L297.9,212.7 L300.1,212.7 L302.3,211.9 L303.9,219.1 L305.8,233.7 L308.0,227.3 L310.3,234.5 L311.3,222.9 L312.2,214.0 L314.1,217.8 L316.6,219.7 L317.6,226.7 L318.8,232.4 L320.4,225.8 L322.3,229.2 L324.5,227.3 L325.9,234.3 L327.1,237.5 L329.3,238.7 L331.2,238.7 L333.7,235.6 L336.9,231.1 L338.2,235.6 L339.2,238.7 L340.7,237.1 L343.2,239.6 L345.8,236.6 L347.7,235.3 L349.6,235.9 L351.5,229.9 L354.0,221.6 L355.5,217.6 L357.8,219.1 L359.7,222.2 L361.6,224.8 L363.5,221.9 L365.8,222.2 L367.9,221.9 L369.8,227.7 L372.1,227.9 L374.3,230.5 L376.2,238.1 L378.1,242.5 L380.0,239.4 L381.0,248.2 L382.3,255.2 L384.0,251.4 L386.3,253.3 L388.2,245.7 L390.1,240.4 L390.2,240.6 L392.5,241.3 L393.8,231.8 L395.7,223.5 L398.2,218.4 L400.8,219.3 L402.7,217.2 L404.8,211.7 L405.8,217.2 L407.1,222.6 L408.8,217.2 L410.3,222.2 L412.2,231.8 L415.0,243.8 L416.0,233.0 L417.0,226.4 L419.1,225.8 L421.4,231.1 L424.2,243.2 L427.4,253.9 L430.6,248.2 L433.5,242.1 L435.6,247.6 L437.8,249.2 L439.4,243.8 L441.3,239.4 L444.2,236.6 L445.1,231.8 L446.0,227.9 L448.0,230.5 L450.2,236.2 L452.1,241.9 L454.0,239.4 L454.9,226.7 L455.5,207.7 L455.6,207.0 L457.0,178.0 L458.1,152.7 L458.8,139.6 L460.1,110.2 L461.0,110.2 L462.2,122.9 L464.1,142.5 L466.4,135.6 L468.5,146.7 L469.8,129.2 L470.8,121.9 L472.7,127.9 L474.9,117.2 L476.8,111.5 L478.7,122.9 L480.8,121.0 L482.8,124.8 L485.0,137.5 L486.9,134.9 L488.8,138.7 L490.9,151.4 L491.8,123.0 L492.6,85.0 L492.8,66.0 L493.2,50.8 L494.1,53.3 L495.3,66.0 L496.6,85.0 L496.9,93.2 L498.9,92.0 L501.4,98.7 L503.2,92.6 L503.2,86.3 L505.2,80.0 L507.4,82.5 L509.3,75.5 L511.6,69.6 L513.7,74.9 L516.3,80.6 L519.4,84.4 L520.7,69.8 L522.0,47.0 L523.2,37.5 L524.2,35.9 L525.8,41.9 L527.7,57.8 L529.6,59.7 L532.1,57.1 L534.6,51.4 L536.5,43.2 L538.4,35.9 L540.0,41.9 L541.6,52.1 L542.9,59.7 L545.0,60.7 L546.7,68.6 L548.6,83.8 L551.1,83.8 L553.0,83.1 L554.7,94.1 L556.8,86.9 L558.7,87.8 L560.6,86.5 L563.1,88.8 L565.7,96.4 L567.6,96.4 L569.5,101.5 L571.4,102.7 L573.7,101.2 L575.4,103.8 L577.7,97.7 L579.3,93.5 L581.5,99.9 L583.1,94.8 L585.3,91.6 L587.6,89.3 L589.8,87.2 L591.0,78.9 L592.3,77.9 L594.0,81.5 L595.5,96.7 L598.0,105.6 L599.9,112.9 L602.5,112.9 L604.1,112.1 L606.3,115.4 L607.5,101.8 L608.8,89.7 L610.4,84.3 L612.0,88.4 L613.9,89.7 L616.4,90.3 L618.3,93.9 L620.8,101.8 L621.6,117.6 L622.4,126.5 L624.5,123.3 L626.7,118.2 L628.9,118.6 L630.8,120.1 L632.7,135.3 L635.0,122.7 L636.8,116.1 L638.8,118.6 L640.1,132.8 L641.0,146.1 L643.1,148.7 L644.8,160.7 L645.4,168.3 L647.3,169.6 L648.2,154.4 L649.2,144.9 L650.5,160.7 L651.5,172.1 L652.4,154.4 L653.3,135.3 L654.3,148.0 L655.2,170.0 L655.6,181.8 L656.0,170.0 L656.6,145.5 L657.5,129.0 L659.4,134.7 L660.6,129.0 L661.6,125.8 L663.8,132.8 L665.7,144.2 L667.6,156.9 L669.7,161.3 L671.4,149.3 L672.7,142.3 L673.9,139.8 L676.1,149.3 L678.1,142.3 L680.3,150.6 L682.8,158.4 L684.7,157.5 L687.2,155.0 L689.8,156.9 L691.0,160.7 L692.1,176.8 L692.6,179.9 L694.6,181.8 L695.5,171.7 L696.1,160.3 L697.0,155.8 L698.9,159.0 L700.2,167.2 L701.2,171.0 L702.7,163.8 L703.7,171.7 L704.7,178.0 L706.0,167.9 L707.3,160.3 L709.0,166.9 L710.0,147.6 L711.6,131.5 L713.2,118.9 L715.4,116.3 L717.4,123.3 L719.2,130.3 L721.0,118.2 L722.9,109.3 L726.1,108.3 L728.7,107.8 L731.6,107.8 L733.1,95.3 L735.0,82.0 L735.9,80.8 L737.9,84.6 L739.7,94.1 L741.7,111.2 L743.9,111.2 L745.8,118.8 L748.0,128.5 L749.6,120.7 L751.1,115.4 L753.1,115.4 L754.4,114.4 L755.3,123.2 L755.9,127.6 L756.9,136.5 L758.4,148.9 L760.3,150.2 L762.5,151.7 L764.8,147.2 L766.4,139.0 L767.9,142.8" fill="none" stroke="#00a83e" stroke-width="2" stroke-linejoin="round" stroke-linecap="round"/>
<g class="lab" style="letter-spacing:0.33px"><text x="780.5" y="18.7">$65.00</text><text x="780.5" y="68.0">$60.00</text><text x="780.5" y="117.0">$55.00</text><text x="780.5" y="166.1">$50.00</text><text x="780.5" y="215.8">$45.00</text><text x="780.5" y="265.0">$40.00</text><text x="780.5" y="314.0">$35.00</text><text x="780.5" y="363.0">$30.00</text><text x="780.5" y="411.8">$25.00</text></g>
<g class="lab" text-anchor="middle" style="letter-spacing:0.15px"><text x="78.1" y="513">Apr '25</text><text x="203.5" y="513">Jun '25</text><text x="331.1" y="513">Aug '25</text><text x="456.1" y="513">Oct '25</text><text x="581.5" y="513">Dec '25</text><text x="703.1" y="513">Feb '26</text></g>
<g id="watermark">
<clipPath id="gc"><circle cx="678.9" cy="410" r="10.9"/></clipPath>
<circle cx="678.9" cy="410" r="10.9" fill="#fbeca2"/>
<path clip-path="url(#gc)" d="M674.3,403.9 L682.2,403.9 C683.2,403.9 683.6,404.8 684.4,405.2 C685.6,405.8 687.4,406.6 687.3,408.2 C687.2,409.8 685.8,410.4 685.0,411.3 C684.0,412.4 683.0,413.8 682.4,415.0 C681.6,416.8 681.0,418.6 680.8,422 L669,422 L670.0,416 C670.1,413 670.6,410.6 671.2,408.8 C671.8,406.6 672.6,404.6 674.3,403.9 Z" fill="#9de47a"/>
<circle cx="677.2" cy="407.3" r="1.85" fill="#ffffff"/>
<circle cx="677.9" cy="407.3" r="1.05" fill="#4b4f57"/>
<rect x="668" y="408" width="22" height="1" fill="#7a8599" fill-opacity="0.08"/>
<text class="wm" x="697.8" y="413.6" textLength="69.4" lengthAdjust="spacingAndGlyphs">coingecko</text>
</g>
<g transform="translate(128.0,0)"><path d="M4,424 H5 L8.4,420.4 Q9,419.8 9.6,420.4 L13,424 H14 a4,4 0 0 1 4,4 V437 a4,4 0 0 1 -4,4 H4 a4,4 0 0 1 -4,-4 V428 a4,4 0 0 1 4,-4 Z" fill="#ffe866"/><path d="M9,426.6 Q10.1,431.3 14.6,432.4 Q10.1,433.5 9,438.2 Q7.9,433.5 3.4,432.4 Q7.9,431.3 9,426.6 Z" fill="#eab308"/></g><g transform="translate(254.0,0)"><path d="M4,424 H5 L8.4,420.4 Q9,419.8 9.6,420.4 L13,424 H14 a4,4 0 0 1 4,4 V437 a4,4 0 0 1 -4,4 H4 a4,4 0 0 1 -4,-4 V428 a4,4 0 0 1 4,-4 Z" fill="#ffe866"/><path d="M9,426.6 Q10.1,431.3 14.6,432.4 Q10.1,433.5 9,438.2 Q7.9,433.5 3.4,432.4 Q7.9,431.3 9,426.6 Z" fill="#eab308"/></g><g transform="translate(689.0,0)"><path d="M4,424 H5 L8.4,420.4 Q9,419.8 9.6,420.4 L13,424 H14 a4,4 0 0 1 4,4 V437 a4,4 0 0 1 -4,4 H4 a4,4 0 0 1 -4,-4 V428 a4,4 0 0 1 4,-4 Z" fill="#ffe866"/><path d="M9,426.6 Q10.1,431.3 14.6,432.4 Q10.1,433.5 9,438.2 Q7.9,433.5 3.4,432.4 Q7.9,431.3 9,426.6 Z" fill="#eab308"/></g>
</svg>
</body>
</html>
